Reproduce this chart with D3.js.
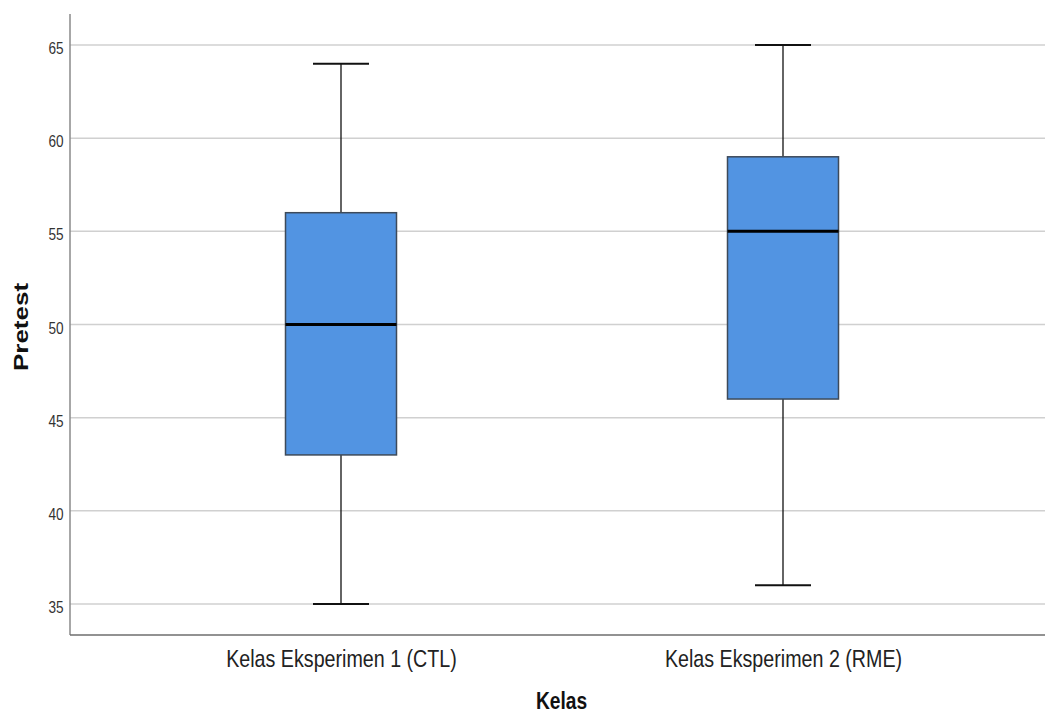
<!DOCTYPE html>
<html><head><meta charset="utf-8">
<script src="https://cdn.jsdelivr.net/npm/d3@7"></script>
<style>body{margin:0;background:#fff}svg{display:block}</style>
</head><body>
<svg id="c" width="1045" height="715"></svg>
<script>
const categories = ["Kelas Eksperimen 1 (CTL)", "Kelas Eksperimen 2 (RME)"];
const whiskerLow = [35, 36];
const q1 = [43, 46];
const median = [50, 55];
const q3 = [56, 59];
const whiskerHigh = [64, 65];
const yTicks = [35, 40, 45, 50, 55, 60, 65];

(function () {
const svg = d3.select("#c");
const pLeft = 70, pRight = 1045, pTop = 14, pBottom = 635;
const y = d3.scaleLinear().domain([35, 65]).range([604, 45]);
const x = d3.scalePoint().domain(categories).range([341, 783]);
const boxW = 111, capW = 56;
const font = "Liberation Sans, Arial, sans-serif";

// gridlines
svg.append("g").selectAll("line").data(yTicks).join("line")
  .attr("x1", pLeft).attr("x2", pRight)
  .attr("y1", d => y(d)).attr("y2", d => y(d))
  .attr("stroke", "#d0d0d0").attr("stroke-width", 1.5);

// y axis
const yAxis = d3.axisLeft(y).tickValues(yTicks).tickSize(0).tickPadding(8);
const gy = svg.append("g").attr("transform", `translate(${pLeft},0)`).call(yAxis);
gy.select(".domain").remove();
gy.selectAll("text").attr("font-family", font).attr("font-size", 17).attr("fill", "#333")
  .attr("dy", "0.5em").attr("transform", "scale(0.8,1)");

// axis lines
svg.append("line").attr("x1", pLeft).attr("x2", pLeft).attr("y1", pTop).attr("y2", pBottom)
  .attr("stroke", "#8a8a8a").attr("stroke-width", 1.5);
svg.append("line").attr("x1", pLeft).attr("x2", pRight).attr("y1", pBottom).attr("y2", pBottom)
  .attr("stroke", "#6e6e6e").attr("stroke-width", 1.5);

// x axis labels
const xAxis = d3.axisBottom(x).tickSize(0).tickPadding(15);
const gx = svg.append("g").attr("transform", `translate(0,${pBottom})`).call(xAxis);
gx.select(".domain").remove();
gx.selectAll("text").attr("font-family", font).attr("font-size", 24).attr("fill", "#222")
  .attr("transform", "scale(0.82,1)");

// boxes
const data = categories.map((c, i) => ({c, lo: whiskerLow[i], q1: q1[i], med: median[i], q3: q3[i], hi: whiskerHigh[i]}));
const g = svg.append("g").selectAll("g").data(data).join("g");
g.append("line").attr("x1", d => x(d.c)).attr("x2", d => x(d.c))
  .attr("y1", d => y(d.hi)).attr("y2", d => y(d.q3)).attr("stroke", "#111").attr("stroke-width", 1.3);
g.append("line").attr("x1", d => x(d.c)).attr("x2", d => x(d.c))
  .attr("y1", d => y(d.q1)).attr("y2", d => y(d.lo)).attr("stroke", "#111").attr("stroke-width", 1.3);
g.append("line").attr("x1", d => x(d.c) - capW/2).attr("x2", d => x(d.c) + capW/2)
  .attr("y1", d => y(d.hi)).attr("y2", d => y(d.hi)).attr("stroke", "#111").attr("stroke-width", 2);
g.append("line").attr("x1", d => x(d.c) - capW/2).attr("x2", d => x(d.c) + capW/2)
  .attr("y1", d => y(d.lo)).attr("y2", d => y(d.lo)).attr("stroke", "#111").attr("stroke-width", 2);
g.append("rect").attr("x", d => x(d.c) - boxW/2).attr("width", boxW)
  .attr("y", d => y(d.q3)).attr("height", d => y(d.q1) - y(d.q3))
  .attr("fill", "#5294e2").attr("stroke", "#3d4a5a").attr("stroke-width", 1.5);
g.append("line").attr("x1", d => x(d.c) - boxW/2).attr("x2", d => x(d.c) + boxW/2)
  .attr("y1", d => y(d.med)).attr("y2", d => y(d.med)).attr("stroke", "#000").attr("stroke-width", 3);

// axis titles
svg.append("text").attr("transform", "translate(561.5,709) scale(0.8,1)").attr("text-anchor", "middle")
  .attr("font-family", font).attr("font-weight", "bold")
  .attr("font-size", 24).attr("fill", "#111").text("Kelas");
svg.append("text").attr("transform", "translate(28,327) rotate(-90) scale(1,0.8)").attr("text-anchor", "middle")
  .attr("font-family", font).attr("font-weight", "bold")
  .attr("font-size", 26).attr("fill", "#111").text("Pretest");
})();
</script>
</body></html>
